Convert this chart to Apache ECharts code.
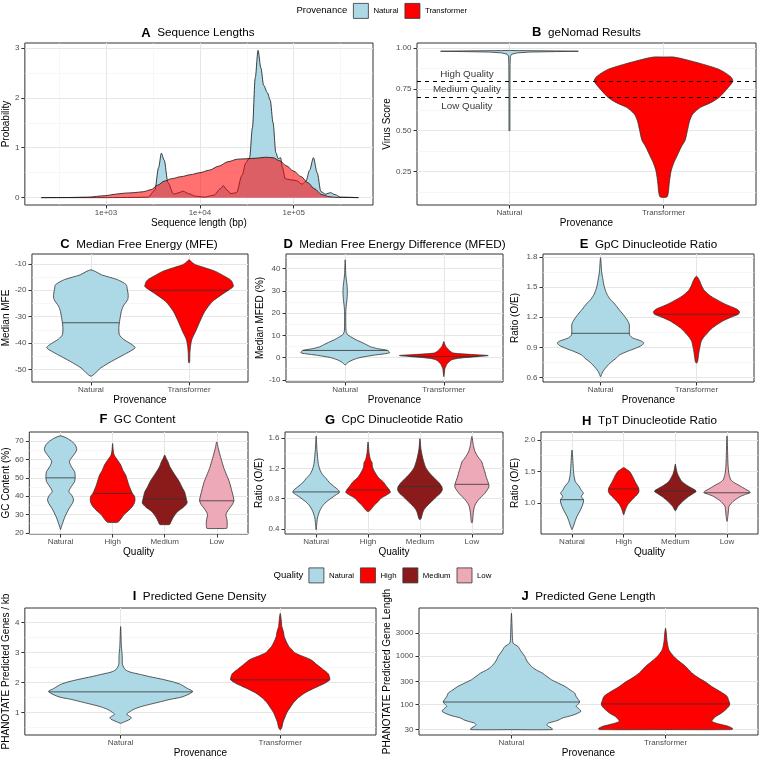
<!DOCTYPE html>
<html><head><meta charset="utf-8">
<script src="https://cdn.jsdelivr.net/npm/echarts@6/dist/echarts.min.js"></script>
<style>html,body{margin:0;padding:0;background:#fff}#c{width:762px;height:759px}</style>
</head><body><div id="c"></div>
<script>
// ---------- DATA ----------
const provenanceCats = ['Natural', 'Transformer'];
const qualityCats = ['Natural', 'High', 'Medium', 'Low'];
const panelLetters = ['A','B','C','D','E','F','G','H','I','J'];
const panelTitles = ['Sequence Lengths','geNomad Results','Median Free Energy (MFE)','Median Free Energy Difference (MFED)','GpC Dinucleotide Ratio','GC Content','CpC Dinucleotide Ratio','TpT Dinucleotide Ratio','Predicted Gene Density','Predicted Gene Length'];

// Panel A: density of sequence length (bp) vs probability
const natLenBp = [204,398,1000,1995,2818,3311,3631,3890,4169,4571,5248,6026,6607,7586,8913,11220,14125,16596,17783,19498,21380,24547,28184,30903,33884,36308,38905,41687,44668,47863,52481,56234,60256,64565,68391,72444,75858,81283,91201,107152,123027,134896,147911,162181,177828,194984,218776,245471,275423,316228,489779];
const natDensity = [0,0,0,0.005,0.01,0.15,0.6,0.89,0.75,0.3,0.07,0.1,0.13,0.08,0.03,0.01,0.05,0.18,0.24,0.15,0.08,0.1,0.45,0.7,0.8,1.4,2.4,2.95,2.6,2.25,2.1,1.95,1.5,0.9,0.78,0.8,0.6,0.38,0.36,0.34,0.27,0.33,0.55,0.8,0.5,0.12,0.07,0.1,0.06,0.01,0];
const trLenBp = [204,398,631,1000,1259,1585,1995,2512,3020,3548,4169,5012,6310,7943,10000,12589,15849,19953,25119,31623,39811,50119,60256,70795,83176,100000,120226,141254,165959,199526,239883,281838,489779];
const trDensity = [0,0.003,0.01,0.04,0.07,0.09,0.1,0.12,0.16,0.25,0.33,0.38,0.42,0.46,0.5,0.55,0.63,0.72,0.77,0.78,0.79,0.81,0.8,0.74,0.64,0.53,0.42,0.3,0.18,0.06,0.02,0.005,0];
const seqLenTicks = [3,4,5];

// Panel B: geNomad virus score violins [value, half width]
const genomadNatural = [[0.496,0],[0.5,0.003],[0.7,0.003],[0.9,0.004],[0.95,0.006],[0.962,0.015],[0.97,0.05],[0.975,0.13],[0.978,0.3],[0.98,0.447],[0.982,0.3],[0.984,0.05],[0.985,0]];
const genomadTransformer = [[0.093,0],[0.095,0.015],[0.1,0.025],[0.13,0.032],[0.18,0.037],[0.25,0.048],[0.3,0.065],[0.35,0.09],[0.4,0.115],[0.44,0.14],[0.5,0.155],[0.56,0.17],[0.6,0.19],[0.64,0.24],[0.67,0.31],[0.7,0.36],[0.75,0.41],[0.8,0.45],[0.83,0.43],[0.87,0.36],[0.9,0.26],[0.93,0.14],[0.945,0.064],[0.945,0]];
const qualityThresholds = [0.8, 0.7];
const qualityLabels = ['High Quality','Medium Quality','Low Quality'];
const qualityLabelY = [0.84, 0.748, 0.647];
const qualityLabelX = 0.724;

// Panel C: MFE
const mfeNatural = [[-52.5,0],[-51.5,0.04],[-49.4,0.1],[-46.9,0.21],[-44.3,0.34],[-41.8,0.45],[-40.6,0.42],[-38.5,0.33],[-36.8,0.29],[-34,0.285],[-32.3,0.29],[-30,0.30],[-28,0.31],[-26,0.33],[-23.5,0.375],[-21.7,0.38],[-19.5,0.37],[-17.9,0.36],[-16,0.27],[-14.2,0.11],[-13,0.05],[-12.3,0]];
const mfeTransformer = [[-47.5,0],[-47,0.006],[-44,0.008],[-41.7,0.013],[-38.7,0.027],[-35.5,0.067],[-31.8,0.11],[-28,0.16],[-24.2,0.24],[-21.5,0.34],[-20,0.40],[-18.6,0.45],[-17,0.44],[-16,0.42],[-14.5,0.35],[-12.9,0.27],[-11.5,0.16],[-10.4,0.067],[-9.5,0.03],[-8.5,0]];
const mfeMedians = [-32.3, -20];

// Panel D: MFED
const mfedNatural = [[-3.3,0],[-2.8,0.015],[-2,0.035],[-1,0.08],[0,0.15],[1,0.28],[1.7,0.4],[2.2,0.45],[3.2,0.43],[4,0.33],[4.8,0.26],[5.7,0.22],[6.8,0.17],[8,0.11],[9,0.07],[9.8,0.04],[10.5,0.02],[12,0.008],[20,0.006],[23,0.01],[26,0.018],[29,0.022],[32,0.02],[35,0.012],[37.5,0.006],[44,0]];
const mfedTransformer = [[-8.6,0],[-7,0.005],[-5,0.01],[-4,0.02],[-3,0.03],[-2,0.05],[-1,0.08],[-0.3,0.15],[0.3,0.3],[0.9,0.45],[1.4,0.28],[2,0.1],[3,0.06],[4,0.04],[5,0.02],[6,0.01],[7.2,0]];
const mfedMedians = [3.2, 0.5];

// Panel E: GpC
const gpcNatural = [[0.607,0],[0.63,0.01],[0.66,0.025],[0.692,0.05],[0.725,0.08],[0.758,0.117],[0.79,0.16],[0.826,0.2],[0.86,0.28],[0.893,0.37],[0.92,0.43],[0.944,0.45],[0.965,0.42],[0.994,0.335],[1.02,0.305],[1.044,0.30],[1.08,0.3],[1.128,0.30],[1.17,0.28],[1.229,0.235],[1.28,0.19],[1.33,0.15],[1.38,0.1],[1.43,0.067],[1.5,0.04],[1.564,0.027],[1.65,0.012],[1.793,0]];
const gpcTransformer = [[0.742,0],[0.76,0.012],[0.8,0.018],[0.859,0.027],[0.9,0.035],[0.96,0.05],[1.0,0.075],[1.027,0.1],[1.06,0.13],[1.095,0.168],[1.13,0.22],[1.161,0.27],[1.2,0.36],[1.229,0.435],[1.252,0.45],[1.275,0.43],[1.296,0.386],[1.33,0.3],[1.363,0.235],[1.41,0.15],[1.464,0.084],[1.52,0.05],[1.564,0.033],[1.609,0]];
const gpcMedians = [1.04, 1.23];

// Panel F: GC content
const gcNatural = [[21.8,0],[23,0.012],[24.5,0.03],[27,0.06],[29,0.088],[31.5,0.13],[33.6,0.17],[36,0.225],[38.1,0.25],[40.3,0.22],[42.5,0.16],[44.5,0.19],[46.2,0.23],[48,0.27],[49.8,0.28],[51.6,0.28],[53.4,0.27],[56,0.21],[58.8,0.17],[60.5,0.2],[62.4,0.25],[64.5,0.3],[66,0.31],[68,0.28],[69.6,0.23],[71.5,0.13],[72.9,0]];
const gcHigh = [[25.7,0],[25.8,0.1],[26.3,0.12],[28,0.17],[30,0.22],[32,0.3],[34.4,0.38],[36.5,0.42],[38.1,0.43],[40,0.42],[41.5,0.38],[44,0.34],[46.2,0.31],[49,0.28],[51.6,0.25],[54,0.2],[57,0.157],[59.5,0.1],[62.4,0.03],[65,0.012],[68.7,0]];
const gcMedium = [[24.5,0],[24.6,0.094],[26,0.12],[28.1,0.157],[30,0.2],[31.7,0.25],[34,0.36],[36.3,0.43],[38.6,0.415],[40.5,0.4],[42.5,0.38],[45,0.33],[48,0.28],[51,0.21],[53.4,0.157],[56,0.1],[58.8,0.063],[60.5,0.03],[62.4,0]];
const gcLow = [[22.4,0],[22.5,0.19],[24,0.2],[26.3,0.2],[28,0.19],[30,0.176],[32,0.21],[33.6,0.25],[35.5,0.3],[37.5,0.33],[39.5,0.32],[41.7,0.3],[45,0.27],[48,0.24],[51.5,0.19],[55.2,0.138],[58.8,0.1],[62.4,0.063],[66,0.03],[69.6,0]];
const gcMedians = [50, 41.5, 38.5, 37.5];

// Panel G: CpC
const cpcNatural = [[0.392,0],[0.45,0.01],[0.545,0.025],[0.631,0.064],[0.68,0.1],[0.72,0.14],[0.76,0.2],[0.807,0.29],[0.85,0.38],[0.885,0.45],[0.92,0.42],[0.959,0.35],[1.01,0.26],[1.069,0.19],[1.12,0.12],[1.177,0.076],[1.25,0.045],[1.33,0.03],[1.45,0.015],[1.626,0]];
const cpcHigh = [[0.631,0],[0.64,0.03],[0.654,0.05],[0.69,0.09],[0.72,0.127],[0.76,0.19],[0.807,0.25],[0.85,0.36],[0.885,0.43],[0.915,0.41],[0.96,0.36],[1.024,0.29],[1.08,0.2],[1.155,0.127],[1.22,0.085],[1.28,0.076],[1.308,0.05],[1.4,0.02],[1.548,0]];
const cpcMedium = [[0.523,0],[0.545,0.025],[0.6,0.045],[0.654,0.076],[0.7,0.13],[0.741,0.19],[0.785,0.26],[0.828,0.32],[0.87,0.39],[0.915,0.43],[0.96,0.42],[1.024,0.35],[1.07,0.28],[1.112,0.22],[1.2,0.12],[1.308,0.064],[1.45,0.02],[1.592,0]];
const cpcLow = [[0.48,0],[0.5,0.013],[0.6,0.025],[0.697,0.05],[0.74,0.08],[0.785,0.127],[0.83,0.19],[0.872,0.25],[0.92,0.3],[0.959,0.33],[1.003,0.32],[1.08,0.28],[1.155,0.25],[1.22,0.22],[1.286,0.19],[1.35,0.12],[1.417,0.064],[1.5,0.03],[1.622,0]];
const cpcMedians = [0.89, 0.915, 0.96, 0.99];

// Panel H: TpT
const tptNatural = [[0.574,0],[0.6,0.015],[0.652,0.038],[0.72,0.065],[0.784,0.096],[0.85,0.14],[0.916,0.18],[0.98,0.21],[1.047,0.225],[1.1,0.18],[1.153,0.22],[1.2,0.18],[1.258,0.14],[1.3,0.1],[1.337,0.064],[1.45,0.035],[1.548,0.026],[1.837,0]];
const tptHigh = [[0.81,0],[0.889,0.032],[0.968,0.077],[1.02,0.13],[1.074,0.19],[1.13,0.26],[1.178,0.295],[1.232,0.29],[1.28,0.26],[1.337,0.22],[1.39,0.19],[1.44,0.16],[1.5,0.11],[1.52,0.077],[1.558,0]];
const tptMedium = [[0.874,0],[0.942,0.05],[1.02,0.14],[1.1,0.256],[1.145,0.34],[1.178,0.4],[1.2,0.39],[1.232,0.32],[1.28,0.22],[1.337,0.128],[1.4,0.08],[1.469,0.038],[1.55,0.015],[1.616,0]];
const tptLow = [[0.705,0],[0.81,0.02],[0.942,0.038],[0.98,0.07],[1.02,0.115],[1.06,0.18],[1.1,0.256],[1.135,0.36],[1.163,0.45],[1.185,0.43],[1.205,0.385],[1.245,0.3],[1.284,0.22],[1.32,0.14],[1.363,0.077],[1.45,0.04],[1.6,0.02],[1.8,0.012],[2.063,0]];
const tptMedians = [1.05, 1.22, 1.185, 1.16];

// Panel I: gene density
const densNatural = [[0.64,0],[0.68,0.02],[0.72,0.038],[0.78,0.06],[0.83,0.067],[0.88,0.055],[0.94,0.038],[1.02,0.055],[1.11,0.083],[1.2,0.13],[1.27,0.18],[1.36,0.25],[1.44,0.31],[1.5,0.37],[1.55,0.4],[1.62,0.43],[1.69,0.45],[1.72,0.45],[1.8,0.42],[1.94,0.375],[2.02,0.33],[2.1,0.27],[2.2,0.18],[2.27,0.125],[2.35,0.06],[2.43,0.03],[2.6,0.012],[2.9,0.01],[3.2,0.005],[3.87,0]];
const densTransformer = [[0.42,0],[0.5,0.01],[0.67,0.017],[0.85,0.03],[1.0,0.042],[1.15,0.06],[1.33,0.083],[1.5,0.115],[1.66,0.156],[1.78,0.2],[1.88,0.24],[1.98,0.28],[2.09,0.31],[2.16,0.31],[2.3,0.3],[2.43,0.27],[2.6,0.23],[2.77,0.19],[2.9,0.13],[3.0,0.09],[3.1,0.073],[3.2,0.055],[3.32,0.042],[3.54,0.025],[3.7,0.02],[3.87,0.01],[4.1,0.006],[4.31,0]];
const densMedians = [1.69, 2.09];

// Panel J: gene length (log scale)
const geneLenNatural = [[29.9,0],[30,0.265],[32.4,0.26],[35,0.24],[37.8,0.23],[41,0.24],[44.4,0.28],[48,0.31],[52.1,0.33],[60,0.4],[71.4,0.45],[80,0.44],[91.2,0.42],[100,0.43],[112,0.443],[125,0.435],[145,0.42],[172,0.41],[200,0.38],[234,0.35],[280,0.3],[324,0.26],[380,0.23],[447,0.2],[520,0.16],[611,0.13],[800,0.1],[984,0.087],[1300,0.06],[1585,0.043],[1862,0.011],[2500,0.006],[4000,0.004],[7780,0]];
const geneLenTransformer = [[29.9,0],[30,0.43],[31.6,0.435],[34.9,0.41],[39,0.35],[44.4,0.30],[50,0.31],[56.2,0.326],[65,0.36],[77.4,0.39],[90,0.41],[102,0.417],[120,0.41],[146,0.40],[180,0.36],[234,0.30],[290,0.26],[351,0.217],[450,0.17],[611,0.13],[800,0.085],[984,0.054],[1349,0.022],[2000,0.01],[3000,0.005],[3800,0]];
const geneLenMedians = [112, 102];
const geneLenTicks = [30,100,300,1000,3000];

// ---------- STYLE / HELPERS ----------
const FONT = 'Liberation Sans, Arial, Helvetica, sans-serif';
const fillColors = {Natural:'#ADD8E6', Transformer:'#FF0000', High:'#FF0000', Medium:'#8B1A1A', Low:'#EEA9B8'};
const grids = [], xAxes = [], yAxes = [], series = [], graphics = [];

function axisDef(gi, dim, s) {
  return {
    type:'value', gridIndex: gi, min: s.min, max: s.max, position: dim==='x' ? 'bottom' : 'left',
    axisLine:{show:false, onZero:false},
    axisTick:{show:true, length:3.5, customValues:s.major, lineStyle:{color:'#333', width:1}},
    axisLabel:{customValues:s.major, formatter:s.fmt, fontSize:8, color:'#4D4D4D', margin: dim==='x'?4:5.5, fontFamily:FONT},
    splitLine:{show:true, lineStyle:{color:'#E6E6E6', width:1}},
    name:s.name, nameLocation:'middle', nameGap:s.gap,
    nameTextStyle:{fontSize:10, color:'#000', fontFamily:FONT}
  };
}
function minorDef(gi, dim, s) {
  return {
    type:'value', gridIndex: gi, min: s.min, max: s.max, position: dim==='x' ? 'top' : 'right',
    axisLine:{show:false, onZero:false}, axisTick:{show:false, customValues:s.minor},
    axisLabel:{show:false, customValues:s.minor},
    splitLine:{show:true, lineStyle:{color:'#F2F2F2', width:0.6}}
  };
}
function addPanel(rect, xs, ys) {
  const gi = grids.length;
  grids.push({left:rect[0], top:rect[1], width:rect[2], height:rect[3], show:true, borderColor:'#333', borderWidth:1, backgroundColor:'transparent'});
  const res = {};
  if (xs.minor) { xAxes.push(minorDef(gi, 'x', xs)); }
  if (ys.minor) { yAxes.push(minorDef(gi, 'y', ys)); }
  res.x = xAxes.length; xAxes.push(axisDef(gi, 'x', xs));
  res.y = yAxes.length; yAxes.push(axisDef(gi, 'y', ys));
  return res;
}
function interpW(profile, v, tf) {
  const t = tf(v);
  for (let i = 0; i < profile.length - 1; i++) {
    const a = tf(profile[i][0]), b = tf(profile[i+1][0]);
    if (t >= a && t <= b) { const f = b === a ? 0 : (t - a) / (b - a); return profile[i][1] + f * (profile[i+1][1] - profile[i][1]); }
  }
  return 0;
}
function violin(name, ax, xPos, profile, median, opts) {
  opts = opts || {};
  const tf = opts.log ? Math.log10 : (v => v);
  const color = fillColors[name];
  return {
    type:'custom', name, xAxisIndex:ax.x, yAxisIndex:ax.y, z:3, silent:true,
    itemStyle:{color},
    data:[[xPos, median == null ? 0 : tf(median)]],
    renderItem(params, api) {
      const xc = api.value(0);
      const right = profile.map(p => api.coord([xc + p[1], tf(p[0])]));
      const left = profile.slice().reverse().filter(p => p[1] > 0).map(p => api.coord([xc - p[1], tf(p[0])]));
      const children = [
        {type:'polygon', shape:{points:right.concat(left), smooth: opts.smooth != null ? opts.smooth : 0.25}, style:{fill:color, stroke:'#333', lineWidth:0.8}}
      ];
      if (median != null) {
        const mw = interpW(profile, median, tf);
        const a = api.coord([xc - mw, tf(median)]), b = api.coord([xc + mw, tf(median)]);
        children.push({type:'line', shape:{x1:a[0], y1:a[1], x2:b[0], y2:b[1]}, style:{stroke:'#333', lineWidth:0.8}});
      }
      return {type:'group', children};
    }
  };
}
const catFmt = cats => (v => cats[Math.round(v) - 1] || '');
function catAxis(cats, name, gap) { return {min:0.4, max:cats.length + 0.6, major:cats.map((c,i)=>i+1), fmt:catFmt(cats), name, gap}; }
function title(i, cx, cy) {
  graphics.push({type:'text', x:cx, y:cy, silent:true, style:{
    text:'{b|' + panelLetters[i] + '}{t|  ' + panelTitles[i] + '}',
    rich:{b:{fontSize:13, fontWeight:'bold', fontFamily:FONT, fill:'#000'}, t:{fontSize:11.7, fontFamily:FONT, fill:'#000'}},
    align:'center', verticalAlign:'middle', textAlign:'center', textVerticalAlign:'middle'}});
}

// ---------- PANELS ----------
// A
const axA = addPanel([23,43,350,162],
  {min:2.135, max:5.845, major:seqLenTicks, minor:[2.5,3.5,4.5,5.5], fmt:v=>'1e+0'+Math.round(v), name:'Sequence length (bp)', gap:13},
  {min:-0.1475, max:3.0975, major:[0,1,2,3], minor:[0.5,1.5,2.5], fmt:v=>String(v), name:'Probability', gap:10});
series.push({type:'line', name:'Natural', xAxisIndex:axA.x, yAxisIndex:axA.y, z:3, silent:true, symbol:'none', smooth:0.3, smoothMonotone:'x',
  data:natLenBp.map((b,i)=>[Math.log10(b), natDensity[i]]),
  lineStyle:{color:'#111', width:0.8}, itemStyle:{color:'#ADD8E6'}, areaStyle:{color:'#ADD8E6', opacity:1}});
series.push({type:'line', name:'Transformer', xAxisIndex:axA.x, yAxisIndex:axA.y, z:4, silent:true, symbol:'none', smooth:0.3, smoothMonotone:'x',
  data:trLenBp.map((b,i)=>[Math.log10(b), trDensity[i]]),
  lineStyle:{color:'#111', width:0.8}, itemStyle:{color:'#FF0000'}, areaStyle:{color:'rgba(255,0,0,0.56)', opacity:1}});
title(0, 198, 33);

// B (no median lines in reference)
const axB = addPanel([417,43,339,162], catAxis(provenanceCats,'Provenance',13),
  {min:0.048, max:1.03, major:[0.25,0.5,0.75,1.0], minor:[0.125,0.375,0.625,0.875], fmt:v=>v.toFixed(2), name:'Virus Score', gap:22});
series.push(violin('Natural', axB, 1, genomadNatural, null, {smooth:0}));
series.push(violin('Transformer', axB, 2, genomadTransformer, null));
series.push({type:'scatter', name:'annotations', xAxisIndex:axB.x, yAxisIndex:axB.y, z:5, silent:true, symbolSize:0,
  data:qualityLabels.map((t,i)=>({name:t, value:[qualityLabelX, qualityLabelY[i]]})),
  label:{show:true, position:'inside', formatter:'{b}', fontSize:9.8, color:'#000', fontFamily:FONT},
  markLine:{silent:true, symbol:'none', label:{show:false}, lineStyle:{type:[4,4], color:'#000', width:1},
    data:qualityThresholds.map(v=>({yAxis:v}))}});
title(1, 586.5, 32.5);

// C
const axC = addPanel([30,254,218,128], catAxis(provenanceCats,'Provenance',13),
  {min:-54.7, max:-6.3, major:[-50,-40,-30,-20,-10], minor:[-45,-35,-25,-15], fmt:v=>String(v), name:'Median MFE', gap:15});
series.push(violin('Natural', axC, 1, mfeNatural, mfeMedians[0]));
series.push(violin('Transformer', axC, 2, mfeTransformer, mfeMedians[1]));
title(2, 139, 244.5);

// D
const axD = addPanel([286,254,217,128], catAxis(provenanceCats,'Provenance',13),
  {min:-11, max:46.6, major:[-10,0,10,20,30,40], minor:[-5,5,15,25,35,45], fmt:v=>String(v), name:'Median MFED (%)', gap:16});
series.push(violin('Natural', axD, 1, mfedNatural, mfedMedians[0]));
series.push(violin('Transformer', axD, 2, mfedTransformer, mfedMedians[1]));
title(3, 394.5, 244.5);

// E
const axE = addPanel([543,254,211,128], catAxis(provenanceCats,'Provenance',13),
  {min:0.555, max:1.83, major:[0.6,0.9,1.2,1.5,1.8], minor:[0.75,1.05,1.35,1.65], fmt:v=>v.toFixed(1), name:'Ratio (O/E)', gap:23});
series.push(violin('Natural', axE, 1, gpcNatural, gpcMedians[0]));
series.push(violin('Transformer', axE, 2, gpcTransformer, gpcMedians[1]));
title(4, 648.5, 244.5);

// F
const axF = addPanel([27,432,221,102], catAxis(qualityCats,'Quality',12.5),
  {min:19.4, max:75, major:[20,30,40,50,60,70], minor:[25,35,45,55,65], fmt:v=>String(v), name:'GC Content (%)', gap:15});
[gcNatural, gcHigh, gcMedium, gcLow].forEach((p,i)=>series.push(violin(qualityCats[i], axF, i+1, p, gcMedians[i])));
title(5, 137.5, 419.5);

// G
const axG = addPanel([285,432,218,102], catAxis(qualityCats,'Quality',12.5),
  {min:0.335, max:1.68, major:[0.4,0.8,1.2,1.6], minor:[0.6,1.0,1.4], fmt:v=>v.toFixed(1), name:'Ratio (O/E)', gap:17});
[cpcNatural, cpcHigh, cpcMedium, cpcLow].forEach((p,i)=>series.push(violin(qualityCats[i], axG, i+1, p, cpcMedians[i])));
title(6, 394, 420);

// H
const axH = addPanel([541,432,217,102], catAxis(qualityCats,'Quality',12.5),
  {min:0.505, max:2.125, major:[1.0,1.5,2.0], minor:[0.75,1.25,1.75], fmt:v=>v.toFixed(1), name:'Ratio (O/E)', gap:18});
[tptNatural, tptHigh, tptMedium, tptLow].forEach((p,i)=>series.push(violin(qualityCats[i], axH, i+1, p, tptMedians[i])));
title(7, 649.5, 421);

// I
const axI = addPanel([23,608,353,127], catAxis(provenanceCats,'Provenance',13),
  {min:0.25, max:4.49, major:[1,2,3,4], minor:[0.5,1.5,2.5,3.5], fmt:v=>String(v), name:'PHANOTATE Predicted Genes / kb', gap:11});
series.push(violin('Natural', axI, 1, densNatural, densMedians[0]));
series.push(violin('Transformer', axI, 2, densTransformer, densMedians[1]));
title(8, 199.5, 596.5);

// J
const axJ = addPanel([419,608,339,127], catAxis(provenanceCats,'Provenance',13),
  {min:1.365, max:4.0, major:geneLenTicks.map(Math.log10), fmt:v=>String(Math.round(Math.pow(10,v))), name:'PHANOTATE Predicted Gene Length', gap:24});
series.push(violin('Natural', axJ, 1, geneLenNatural, geneLenMedians[0], {log:true}));
series.push(violin('Transformer', axJ, 2, geneLenTransformer, geneLenMedians[1], {log:true}));
title(9, 588.5, 596.5);

// Legend titles
graphics.push({type:'text', x:296.5, y:10.5, silent:true, style:{text:'Provenance', fontSize:9.5, fontFamily:FONT, fill:'#000', align:'left', verticalAlign:'middle', textAlign:'left', textVerticalAlign:'middle'}});
graphics.push({type:'text', x:273.5, y:575, silent:true, style:{text:'Quality', fontSize:9.6, fontFamily:FONT, fill:'#000', align:'left', verticalAlign:'middle', textAlign:'left', textVerticalAlign:'middle'}});

const legendItem = n => ({name:n, itemStyle:{color:fillColors[n], borderColor:'#333', borderWidth:0.8}});
const legendBase = {orient:'horizontal', itemWidth:15, itemHeight:15, itemGap:6, icon:'rect', selectedMode:false, padding:0,
  textStyle:{fontSize:7.8, color:'#000', fontFamily:FONT}};

const option = {
  animation:false,
  backgroundColor:'#fff',
  textStyle:{fontFamily:FONT},
  grid:grids, xAxis:xAxes, yAxis:yAxes, series,
  legend:[
    Object.assign({}, legendBase, {left:353, top:3, data:provenanceCats.map(legendItem)}),
    Object.assign({}, legendBase, {left:308.5, top:567.5, data:qualityCats.map(legendItem)})
  ],
  graphic:graphics
};
const chart = echarts.init(document.getElementById('c'), null, {renderer:'canvas'});
chart.setOption(option);
</script></body></html>
